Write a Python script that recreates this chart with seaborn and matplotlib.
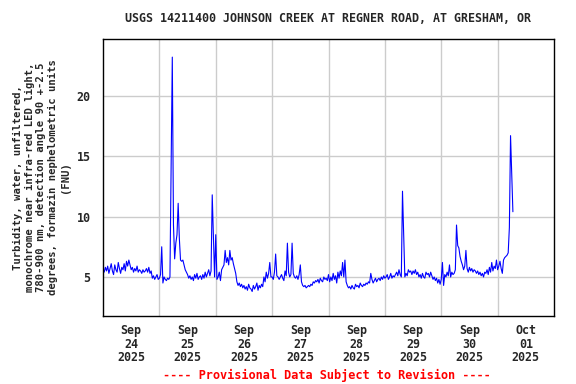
import numpy as np
import pandas as pd
import matplotlib
matplotlib.use("Agg")
import matplotlib.pyplot as plt
import seaborn as sns

# turbidity (FNU), every 30 minutes, one list per day
sep24 = [5.6, 5.4, 5.8, 5.5, 5.9, 5.3, 5.7, 6.1,
         5.5, 5.2, 6.0, 5.6, 5.4, 6.2, 5.7, 5.3,
         5.8, 5.6, 6.1, 5.5, 6.3, 5.9, 6.4, 6.0,
         5.6, 5.8, 5.4, 5.7, 5.5, 5.9, 5.4, 5.6,
         5.5, 5.3, 5.6, 5.4, 5.5, 5.7, 5.4, 5.8,
         5.3, 5.5, 4.9, 5.1, 4.8, 5.0, 5.2, 4.8]
sep25 = [4.9, 5.2, 7.5, 4.5, 5.0, 4.8, 4.7, 4.9, 4.8, 5.0,
         14.0, 23.2, 9.3, 6.5, 7.8, 8.5, 11.1, 8.2, 6.4, 6.3,
         6.4, 6.0, 5.6, 5.4,
         5.2, 4.9, 5.1, 4.8, 5.0, 4.7, 5.2, 4.9, 5.3, 4.8,
         5.0, 5.1, 4.8, 5.2, 4.9, 5.4, 5.0, 5.3, 5.6, 5.1,
         5.5, 11.8, 8.3, 5.0]
sep26 = [8.5, 4.8, 5.0, 5.4, 4.7, 5.6, 5.8, 6.0, 7.2, 6.2,
         6.6, 6.0, 7.2, 6.4, 6.6, 6.1, 5.7, 5.3, 4.6, 4.3,
         4.5, 4.2,
         4.4, 4.1, 4.3, 4.0, 4.2, 3.9, 4.4, 4.1, 4.0, 3.8,
         4.3, 4.0, 4.2, 4.5, 3.9, 4.3, 4.1, 4.4, 4.2,
         5.0, 4.6, 5.4, 4.9, 5.3, 6.2, 5.0]
sep27 = [5.0, 4.8, 5.4, 6.9, 5.1, 5.0, 4.8, 5.0, 5.2, 4.9,
         4.7, 5.5, 5.1, 7.8, 5.4, 5.0, 5.2, 7.8, 5.3, 5.0,
         4.9, 5.1, 4.8, 5.2, 6.0, 4.6, 4.3, 4.2, 4.3, 4.1,
         4.2, 4.3, 4.2, 4.4, 4.3, 4.6, 4.5, 4.7, 4.6, 4.8,
         4.5, 4.9, 4.7, 4.6, 5.0, 4.8, 4.9, 4.7]
sep28 = [5.2, 4.6, 5.0, 4.7, 5.3, 4.8, 5.1, 4.5, 5.4, 4.9,
         5.5, 5.1, 6.2, 5.0, 6.4, 4.6, 4.3, 4.1, 4.2, 4.0,
         4.3, 4.1, 4.0, 4.4, 4.2, 4.3, 4.1, 4.5, 4.3, 4.2,
         4.4, 4.3, 4.5, 4.4, 4.6, 4.5, 5.3, 4.8, 4.5, 4.7,
         4.9, 4.6, 4.8, 4.9, 4.7, 5.0, 4.8, 5.1]
sep29 = [4.9, 5.0, 5.2, 4.8, 5.0, 5.3, 4.9, 5.1, 5.0, 5.2,
         5.4, 5.1, 5.6, 5.2, 5.0, 12.1, 8.6, 5.0, 5.3, 5.1,
         5.6, 5.4, 5.5, 5.2, 5.5, 5.3, 5.6, 5.2, 5.4, 5.0,
         5.2, 4.9, 5.3, 5.0, 4.9, 5.4, 5.2, 5.3, 5.0, 5.4,
         5.1, 4.8, 5.0, 4.7, 4.9, 4.5, 4.8, 4.4]
sep30 = [4.8, 6.2, 4.3, 5.2, 5.0, 5.4, 5.1, 6.0, 5.0, 5.4,
         5.2, 5.3, 5.6, 9.3, 7.6, 7.4, 6.7, 6.3, 6.0, 5.6,
         5.9, 7.2, 5.7, 5.4, 5.8, 5.5, 5.7, 5.4, 5.6, 5.5,
         5.3, 5.5, 5.2, 5.4, 5.1, 5.3, 5.0, 5.4, 5.3, 5.6,
         5.2, 5.8, 5.4, 6.2, 5.5, 5.9, 5.7, 6.4]
oct01 = [5.6, 5.9, 6.3, 5.7, 5.3, 6.4, 6.6, 6.7, 6.8, 7.0,
         9.1, 16.7, 13.6, 10.4]

day_labels = ["Sep\n24\n2025", "Sep\n25\n2025", "Sep\n26\n2025", "Sep\n27\n2025",
              "Sep\n28\n2025", "Sep\n29\n2025", "Sep\n30\n2025", "Oct\n01\n2025"]
y_ticks = [5, 10, 15, 20]

title = "USGS 14211400 JOHNSON CREEK AT REGNER ROAD, AT GRESHAM, OR"
ylabel = ("Turbidity, water, unfiltered,\n"
          "monochrome near infra-red LED light,\n"
          "780-900 nm, detection angle 90 +-2.5\n"
          "degrees, formazin nephelometric units\n"
          "(FNU)")
footer = "---- Provisional Data Subject to Revision ----"

values = sep24 + sep25 + sep26 + sep27 + sep28 + sep29 + sep30 + oct01
df = pd.DataFrame({
    "time": pd.date_range("2025-09-24 00:00", periods=len(values), freq="30min"),
    "fnu": values,
})

sns.set_style("white")
plt.rcParams["font.family"] = ["DejaVu Sans Mono"]
plt.rcParams["font.weight"] = "bold"

fig = plt.figure(figsize=(5.76, 3.84), dpi=100)
ax = fig.add_axes([103 / 576, 1 - 316 / 384, 451 / 576, 277 / 384])

sns.lineplot(data=df, x="time", y="fnu", ax=ax, color="#0000ff", linewidth=0.8)

start = pd.Timestamp("2025-09-24")
days = pd.date_range(start, periods=9, freq="D")
ax.set_xlim(days[0], days[-1])
ax.set_ylim(1.77, 24.7)

ax.set_xticks(days[1:-1])
ax.set_xticklabels([])
ax.set_xticks(days[:-1] + pd.Timedelta(hours=12), minor=True)
ax.set_xticklabels(day_labels, minor=True, fontsize=8.4, fontweight="bold",
                   linespacing=1.05)
ax.tick_params(axis="x", which="major", length=3, direction="in", color="#cccccc")
ax.tick_params(axis="x", which="minor", length=0, pad=6)

ax.set_yticks(y_ticks)
ax.set_yticklabels([str(t) for t in y_ticks], fontsize=8.4, fontweight="bold")
ax.tick_params(axis="y", length=0, pad=9)

ax.grid(True, which="major", color="#cccccc", linewidth=1.0)
for s in ax.spines.values():
    s.set_color("black")
    s.set_linewidth(1.0)

ax.set_xlabel("")
ax.set_ylabel(ylabel, fontsize=7.6, fontweight="bold", linespacing=1.2, labelpad=5)

fig.text(328 / 576, 1 - 19 / 384, title, ha="center", va="center",
         fontsize=8.4, fontweight="bold")
fig.text(327 / 576, 1 - 375 / 384, footer, ha="center", va="center",
         fontsize=8.6, fontweight="bold", color="#ff0000")

fig.savefig("out.png", dpi=100)
